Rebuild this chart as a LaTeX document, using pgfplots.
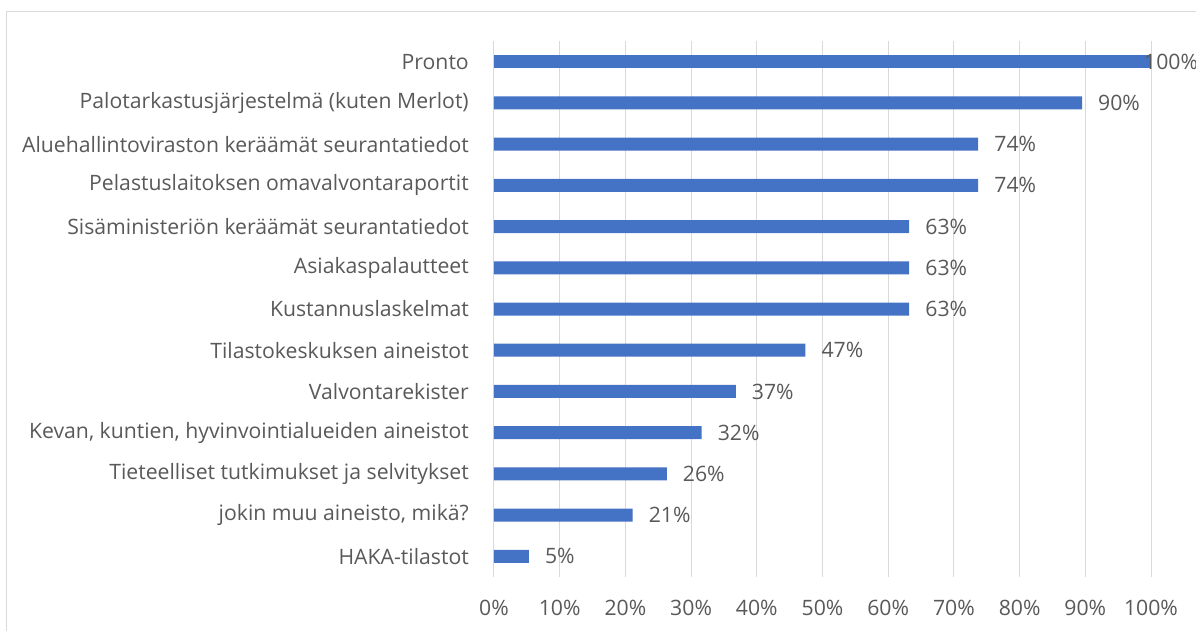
\documentclass[border=0pt]{standalone}
\usepackage{fontspec}
\setmainfont{Open Sans}
\usepackage{pgfplots}
\pgfplotsset{compat=1.18}
\definecolor{barblue}{HTML}{4472C4}
\definecolor{txtgray}{HTML}{595959}
\definecolor{gridgray}{HTML}{D9D9D9}
\newcommand{\lblfont}{\fontsize{21.2}{25}\selectfont}
\begin{document}
\begin{tikzpicture}[x=1pt,y=1pt]
\begin{axis}[
 at={(0,0)}, anchor=south west,
 scale only axis, width=657pt, height=536pt,
 xmin=0, xmax=100, ymin=-0.5, ymax=12.5, y dir=reverse,
 xbar, bar width=13pt, bar shift=0pt,
 axis line style={draw=none},
 major tick length=0pt,
 xtick={0,10,...,100},
 xticklabels={0\%,10\%,20\%,30\%,40\%,50\%,60\%,70\%,80\%,90\%,100\%},
 xmajorgrids, grid style={gridgray, line width=1pt},
 ytick={0,...,12},
 yticklabels={Pronto,
   Palotarkastusjärjestelmä (kuten Merlot),
   Aluehallintoviraston keräämät seurantatiedot,
   Pelastuslaitoksen omavalvontaraportit,
   Sisäministeriön keräämät seurantatiedot,
   Asiakaspalautteet,
   Kustannuslaskelmat,
   Tilastokeskuksen aineistot,
   Valvontarekister,
   {Kevan, kuntien, hyvinvointialueiden aineistot},
   Tieteelliset tutkimukset ja selvitykset,
   {jokin muu aineisto, mikä?},
   HAKA-tilastot},
 tick label style={font=\lblfont, text=txtgray},
 yticklabel style={inner sep=0pt, anchor=east, xshift=-25pt},
 xticklabel style={inner sep=0pt, anchor=north, yshift=-23pt},
 point meta=explicit symbolic,
 clip=false,
]
\addplot[fill=barblue, draw=none,
  nodes near coords={\pgfplotspointmeta\%},
  nodes near coords style={font=\lblfont, text=txtgray, anchor=west, inner sep=0pt, xshift=16pt}]
 table[x=v, y=i, meta=l]{
i v l
1 89.5 90
2 73.7 74
3 73.7 74
4 63.2 63
5 63.2 63
6 63.2 63
7 47.4 47
8 36.8 37
9 31.6 32
10 26.3 26
11 21.1 21
12 5.3 5
};
\addplot[fill=barblue, draw=none,
  nodes near coords={\pgfplotspointmeta\%},
  nodes near coords style={font=\lblfont, text=txtgray, anchor=west, inner sep=0pt, xshift=-7pt}]
 table[x=v, y=i, meta=l]{
i v l
0 100 100
};
\end{axis}
\draw[gridgray, line width=1pt] (-487,-80) -- (-487,565) -- (730,565);
\pgfresetboundingbox
\path (-494,-53) rectangle (702,577);
\end{tikzpicture}
\end{document}
